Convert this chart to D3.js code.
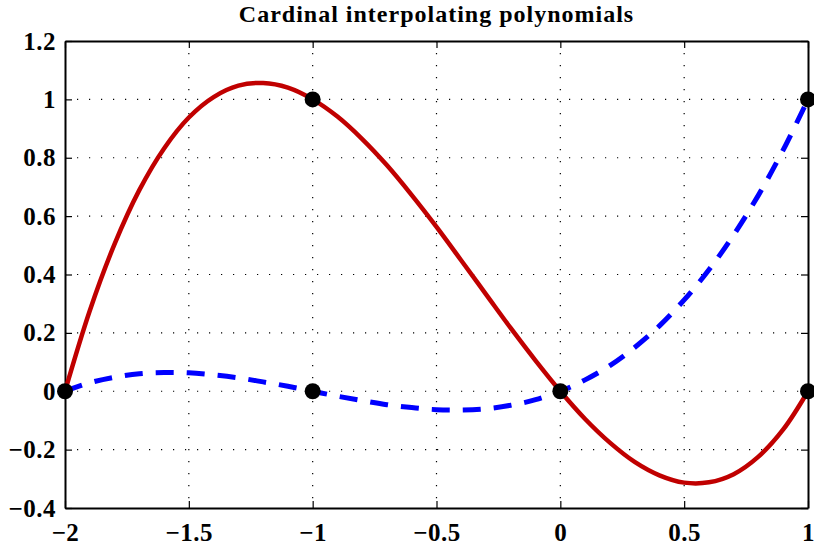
<!DOCTYPE html>
<html>
<head>
<meta charset="utf-8">
<script src="https://cdn.jsdelivr.net/npm/d3@7"></script>
<style>
  body { margin: 0; background: #fff; }
  svg text { font-family: "Liberation Serif", "Times New Roman", serif; font-weight: bold; }
</style>
</head>
<body>
<div class="chart"></div>
<script>
// sample points
var xs = [-2, -1.9, -1.8, -1.7, -1.6, -1.5, -1.4, -1.3, -1.2, -1.1, -1,
          -0.9, -0.8, -0.7, -0.6, -0.5, -0.4, -0.3, -0.2, -0.1, 0,
          0.1, 0.2, 0.3, 0.4, 0.5, 0.6, 0.7, 0.8, 0.9, 1];

var redY = [0, 0.276, 0.504, 0.689, 0.832, 0.938, 1.008, 1.047, 1.056, 1.040, 1,
            0.941, 0.864, 0.774, 0.672, 0.563, 0.448, 0.332, 0.216, 0.105, 0,
            -0.095, -0.176, -0.242, -0.288, -0.313, -0.312, -0.284, -0.224, -0.131, 0];

var blueY = [0, 0.029, 0.048, 0.060, 0.064, 0.063, 0.056, 0.046, 0.032, 0.017, 0,
             -0.017, -0.032, -0.046, -0.056, -0.063, -0.064, -0.060, -0.048, -0.029, 0,
             0.039, 0.088, 0.150, 0.224, 0.313, 0.416, 0.536, 0.672, 0.827, 1];

// interpolation nodes (black dots)
var markers = [[-2, 0], [-1, 1], [-1, 0], [0, 0], [1, 1], [1, 0]];

var xTicks = [-2, -1.5, -1, -0.5, 0, 0.5, 1];
var yTicks = [-0.4, -0.2, 0, 0.2, 0.4, 0.6, 0.8, 1, 1.2];

var svgWidth = 814;
var svgHeight = 550;
var margin = { top: 41, bottom: 42, left: 65, right: 6 };
var chartWidth = svgWidth - margin.left - margin.right;
var chartHeight = svgHeight - margin.top - margin.bottom;

var svg = d3.select(".chart")
    .append("svg")
    .attr("width", svgWidth)
    .attr("height", svgHeight);

var chartGroup = svg.append("g")
    .attr("transform", `translate(${margin.left}, ${margin.top})`);

var xScale = d3.scaleLinear().domain([-2, 1]).range([0, chartWidth]);
var yScale = d3.scaleLinear().domain([-0.4, 1.2]).range([chartHeight, 0]);

var fmt = function(d) { return d3.format("")(d).replace("-", "\u2212"); };

// dotted grid
var grid = chartGroup.append("g").attr("class", "grid");
grid.selectAll(".gx").data(xTicks.slice(1, -1)).enter().append("line")
    .attr("x1", d => xScale(d)).attr("x2", d => xScale(d))
    .attr("y1", 0).attr("y2", chartHeight);
grid.selectAll(".gy").data(yTicks.slice(1, -1)).enter().append("line")
    .attr("y1", d => yScale(d)).attr("y2", d => yScale(d))
    .attr("x1", 0).attr("x2", chartWidth);
grid.selectAll("line")
    .attr("stroke", "#000")
    .attr("stroke-width", 1.2)
    .attr("stroke-dasharray", "1.2,10.8");

// axes with inward ticks on all sides
var tickLen = 7;
var bottomAxis = d3.axisBottom(xScale).tickValues(xTicks).tickSizeInner(-tickLen).tickSizeOuter(0).tickPadding(15).tickFormat(fmt);
var leftAxis = d3.axisLeft(yScale).tickValues(yTicks).tickSizeInner(-tickLen).tickSizeOuter(0).tickPadding(9).tickFormat(fmt);
var topAxis = d3.axisTop(xScale).tickValues(xTicks).tickSizeInner(-tickLen).tickSizeOuter(0).tickFormat("");
var rightAxis = d3.axisRight(yScale).tickValues(yTicks).tickSizeInner(-tickLen).tickSizeOuter(0).tickFormat("");

chartGroup.append("g").attr("transform", `translate(0, ${chartHeight})`).call(bottomAxis);
chartGroup.append("g").call(leftAxis);
chartGroup.append("g").call(topAxis);
chartGroup.append("g").attr("transform", `translate(${chartWidth}, 0)`).call(rightAxis);

chartGroup.selectAll(".domain").attr("stroke", "#000").attr("stroke-width", 2);
chartGroup.selectAll(".tick line").attr("stroke", "#000").attr("stroke-width", 1.2);
chartGroup.selectAll(".tick text")
    .attr("font-family", "Liberation Serif, serif")
    .attr("font-weight", "bold")
    .attr("font-size", "25px")
    .attr("letter-spacing", "0.5px")
    .attr("fill", "#000");

// curves
var line = d3.line()
    .x(d => xScale(d[0]))
    .y(d => yScale(d[1]))
    .curve(d3.curveCatmullRom);

chartGroup.append("path")
    .datum(xs.map((x, i) => [x, redY[i]]))
    .attr("d", line)
    .attr("fill", "none")
    .attr("stroke", "#c00000")
    .attr("stroke-width", 4.5);

chartGroup.append("path")
    .datum(xs.map((x, i) => [x, blueY[i]]))
    .attr("d", line)
    .attr("fill", "none")
    .attr("stroke", "#0000ff")
    .attr("stroke-width", 5)
    .attr("stroke-dasharray", "18,13");

// node markers
chartGroup.selectAll(".node")
    .data(markers)
    .enter()
    .append("circle")
    .attr("cx", d => xScale(d[0]))
    .attr("cy", d => yScale(d[1]))
    .attr("r", 8)
    .attr("fill", "#000");

// title
svg.append("text")
    .attr("x", margin.left + chartWidth / 2)
    .attr("y", 22)
    .attr("text-anchor", "middle")
    .attr("font-size", "24px")
    .attr("letter-spacing", "1px")
    .attr("fill", "#000")
    .text("Cardinal interpolating polynomials");
</script>
</body>
</html>
